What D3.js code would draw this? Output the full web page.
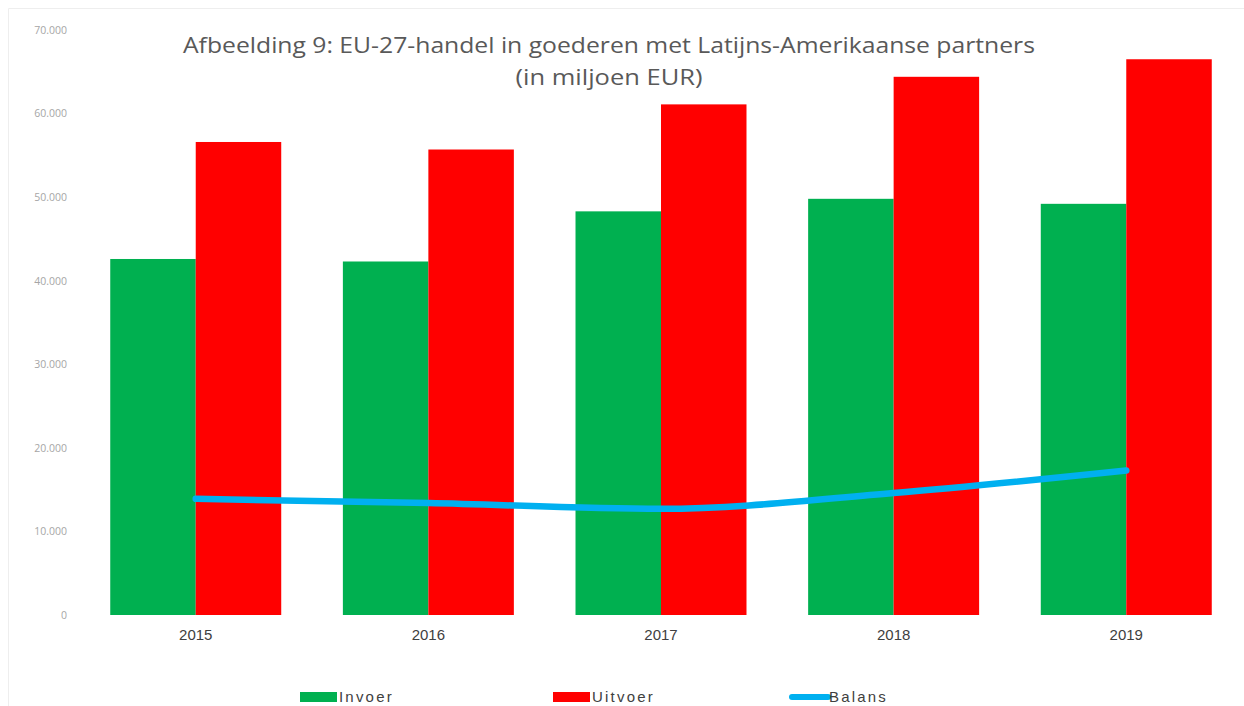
<!DOCTYPE html>
<html><head><meta charset="utf-8">
<script src="https://cdn.jsdelivr.net/npm/d3@7"></script>
<style>html,body{margin:0;padding:0;background:#fff;} svg{display:block;}</style>
</head><body>
<svg id="chart" width="1244" height="706"></svg>
<script>
const years = ["2015","2016","2017","2018","2019"];
const invoer = [42600, 42300, 48300, 49800, 49200];
const uitvoer = [56600, 55700, 61100, 64400, 66500];
const balans = [13900, 13400, 12700, 14600, 17300];
const yTicks = [0,10000,20000,30000,40000,50000,60000,70000];
const titleLines = ["Afbeelding 9: EU-27-handel in goederen met Latijns-Amerikaanse partners","(in miljoen EUR)"];
const seriesNames = ["Invoer","Uitvoer","Balans"];
const colors = {Invoer:"#00B050", Uitvoer:"#FF0000", Balans:"#00B0F0"};

const svg = d3.select("#chart");
svg.append("path").attr("d","M8.5,706 V8.5 H1244").attr("fill","none").attr("stroke","#eeeeee").attr("stroke-width",1);

const y = d3.scaleLinear().domain([0,70000]).range([615,30]);
const x = d3.scaleBand().domain(years).range([80,1242]).paddingInner(0.265).paddingOuter(0.13);
const xs = d3.scaleBand().domain(["Invoer","Uitvoer"]).range([0,x.bandwidth()]);

const fmt = v => d3.format(",")(v).replace(/,/g,".");
const yAxis = d3.axisLeft(y).tickValues(yTicks).tickFormat(fmt).tickSize(0).tickPadding(0);
const ga = svg.append("g").attr("transform","translate(67,0)").call(yAxis);
ga.select(".domain").remove();
ga.selectAll("text").attr("font-family","Open Sans, sans-serif").attr("font-size",10.5).attr("fill","#a6a6a6");

const groups = svg.append("g").selectAll("g").data(years).join("g")
  .attr("transform", d => `translate(${x(d)},0)`);
groups.append("rect").attr("x",xs("Invoer")).attr("width",xs.bandwidth())
  .attr("y",(d,i)=>y(invoer[i])).attr("height",(d,i)=>y(0)-y(invoer[i])).attr("fill",colors.Invoer);
groups.append("rect").attr("x",xs("Uitvoer")).attr("width",xs.bandwidth())
  .attr("y",(d,i)=>y(uitvoer[i])).attr("height",(d,i)=>y(0)-y(uitvoer[i])).attr("fill",colors.Uitvoer);

const line = d3.line().x((d,i)=>x(years[i])+x.bandwidth()/2).y(d=>y(d)).curve(d3.curveMonotoneX);
svg.append("path").datum(balans).attr("d",line).attr("fill","none")
  .attr("stroke",colors.Balans).attr("stroke-width",6.5).attr("stroke-linecap","round");

const xAxis = d3.axisBottom(x).tickSize(0).tickPadding(0);
const gx = svg.append("g").attr("transform","translate(0,629)").call(xAxis);
gx.select(".domain").remove();
gx.selectAll("text").attr("font-family","Liberation Sans, Arial, sans-serif").attr("font-size",15).attr("fill","#404040").attr("dy","0.71em");

const t = svg.append("g");
t.selectAll("text").data(titleLines).join("text")
  .attr("x",609).attr("y",(d,i)=>53+i*32).attr("text-anchor","middle")
  .attr("font-family","Open Sans, sans-serif").attr("font-size",22).attr("font-weight",400)
  .attr("fill","#595959").text(d=>d)
  .each(function(d,i){ d3.select(this).attr("textLength", i===0 ? 852 : 187).attr("lengthAdjust","spacingAndGlyphs"); });

const legX = [300, 553, 790];
const lg = svg.append("g").selectAll("g").data(seriesNames).join("g")
  .attr("transform",(d,i)=>`translate(${legX[i]},697)`);
lg.each(function(d){
  const g = d3.select(this);
  if(d==="Balans"){
    g.append("line").attr("x1",2).attr("x2",38).attr("y1",0).attr("y2",0)
      .attr("stroke",colors[d]).attr("stroke-width",6).attr("stroke-linecap","round");
  } else {
    g.append("rect").attr("x",0).attr("y",-5).attr("width",37).attr("height",10).attr("fill",colors[d]);
  }
  g.append("text").attr("x",39).attr("y",0).attr("dy","0.35em")
    .attr("font-family","Liberation Sans, Arial, sans-serif").attr("font-size",15).attr("letter-spacing",2.2)
    .attr("fill","#404040").text(d);
});
</script>
</body></html>
